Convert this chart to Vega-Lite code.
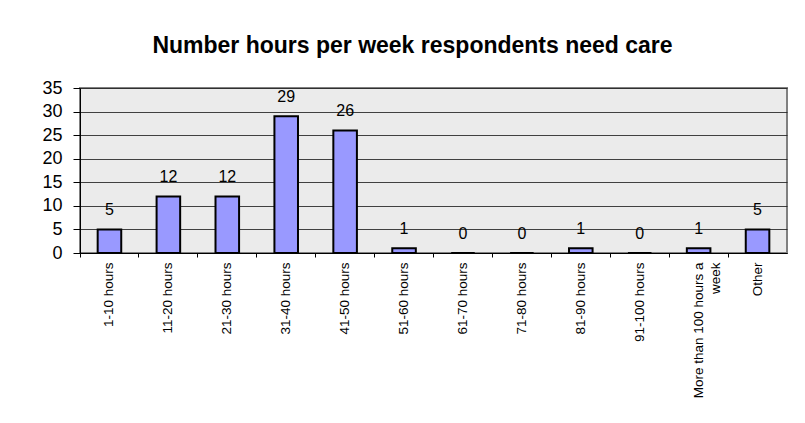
{
  "$schema": "https://vega.github.io/schema/vega-lite/v6.json",
  "autosize": "none",
  "padding": {"left": 80, "top": 88, "right": 18, "bottom": 170},
  "width": 707,
  "height": 165,
  "background": "white",
  "title": {
    "text": "Number hours per week respondents need care",
    "font": "Liberation Sans",
    "fontSize": 23,
    "fontWeight": "bold",
    "color": "black",
    "anchor": "middle",
    "dx": -21,
    "offset": 21
  },
  "data": {
    "values": [
      {"cat": "1-10 hours", "n": 5},
      {"cat": "11-20 hours", "n": 12},
      {"cat": "21-30 hours", "n": 12},
      {"cat": "31-40 hours", "n": 29},
      {"cat": "41-50 hours", "n": 26},
      {"cat": "51-60 hours", "n": 1},
      {"cat": "61-70 hours", "n": 0},
      {"cat": "71-80 hours", "n": 0},
      {"cat": "81-90 hours", "n": 1},
      {"cat": "91-100 hours", "n": 0},
      {"cat": "More than 100 hours a week", "n": 1},
      {"cat": "Other", "n": 5}
    ]
  },
  "encoding": {
    "x": {
      "field": "cat",
      "type": "nominal",
      "sort": null,
      "title": null,
      "scale": {"paddingInner": 0, "paddingOuter": 0},
      "axis": {
        "labelAngle": -90,
        "labelAlign": "right",
        "labelBaseline": "middle",
        "labelFont": "Liberation Sans",
        "labelFontSize": 13.5,
        "labelColor": "black",
        "labelPadding": 5,
        "labelLimit": 300,
        "labelExpr": "datum.label == 'More than 100 hours a week' ? ['More than 100 hours a', 'week'] : datum.label",
        "labelLineHeight": 17,
        "bandPosition": 0,
        "tickSize": 4,
        "tickColor": "black",
        "domainColor": "black",
        "grid": false
      }
    },
    "y": {
      "field": "n",
      "type": "quantitative",
      "title": null,
      "scale": {"domain": [0, 35], "nice": false},
      "axis": {
        "values": [0, 5, 10, 15, 20, 25, 30, 35],
        "labelFont": "Liberation Sans",
        "labelFontSize": 18,
        "labelColor": "black",
        "labelPadding": 11,
        "tickSize": 7,
        "tickColor": "black",
        "domainColor": "black",
        "grid": true,
        "gridColor": "#222222",
        "gridWidth": 1,
        "gridOpacity": 0.85
      }
    }
  },
  "layer": [
    {
      "mark": {
        "type": "bar",
        "width": {"band": 0.4},
        "fill": "#9999ff",
        "stroke": "black",
        "strokeWidth": 2
      }
    },
    {
      "mark": {
        "type": "text",
        "font": "Liberation Sans",
        "fontSize": 16,
        "color": "black",
        "baseline": "bottom",
        "dy": -11
      },
      "encoding": {"text": {"field": "n", "type": "quantitative"}}
    }
  ],
  "config": {
    "view": {"fill": "#ebebeb", "stroke": "#808080", "strokeWidth": 2}
  }
}
